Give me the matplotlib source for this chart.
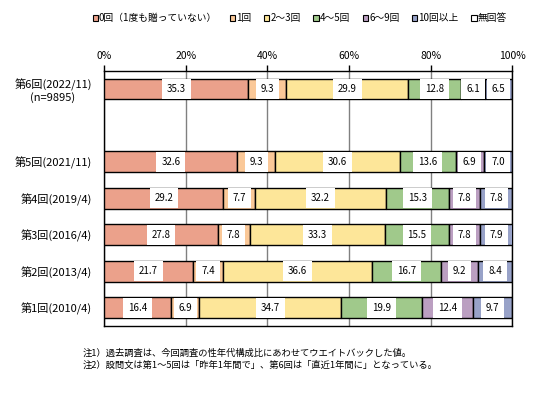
import numpy as np
import matplotlib.pyplot as plt
from matplotlib.patches import Patch

plt.rcParams['font.family'] = ['Noto Sans CJK JP', 'DejaVu Sans']

rounds = ['第6回(2022/11)\n(n=9895)', '第5回(2021/11)', '第4回(2019/4)',
          '第3回(2016/4)', '第2回(2013/4)', '第1回(2010/4)']
categories = ['0回（1度も贈っていない）', '1回', '2～3回', '4～5回', '6～9回', '10回以上', '無回答']
colors = ['#EBA18B', '#FAC898', '#FDE699', '#A0C98B', '#BB9FC1', '#98A2C8', '#FFFFFF']

zero = [35.3, 32.6, 29.2, 27.8, 21.7, 16.4]
one = [9.3, 9.3, 7.7, 7.8, 7.4, 6.9]
two_three = [29.9, 30.6, 32.2, 33.3, 36.6, 34.7]
four_five = [12.8, 13.6, 15.3, 15.5, 16.7, 19.9]
six_nine = [6.1, 6.9, 7.8, 7.8, 9.2, 12.4]
ten_plus = [6.5, 7.0, 7.8, 7.9, 8.4, 9.7]
no_answer = [0.1, 0.0, 0.0, 0.0, 0.0, 0.0]

series = [zero, one, two_three, four_five, six_nine, ten_plus, no_answer]

notes = ['注1）過去調査は、今回調査の性年代構成比にあわせてウエイトバックした値。',
         '注2）設問文は第1～5回は「昨年1年間で」、第6回は「直近1年間に」となっている。']

fig = plt.figure(figsize=(5.5, 3.93), dpi=100)
ax = fig.add_axes([0.1896, 0.1705, 0.7419, 0.6496])

# one empty slot between the latest survey and the rest
ypos = np.array([0, 2, 3, 4, 5, 6])

left = np.zeros(len(rounds))
for vals, col in zip(series, colors):
    vals = np.array(vals)
    ax.barh(ypos, vals, left=left, height=0.57, color=col,
            edgecolor='black', linewidth=1, zorder=3)
    if col != '#FFFFFF':
        for y, l, v in zip(ypos, left, vals):
            ax.text(l + v / 2, y, f'{v:.1f}', ha='center', va='center',
                    fontsize=7, zorder=4,
                    bbox=dict(boxstyle='square,pad=0.5', fc='white', ec='none'))
    left += vals

ax.set_xlim(0, 100)
ax.set_ylim(6.5, -0.5)
ax.set_yticks(ypos)
ax.set_yticklabels(rounds, fontsize=8, multialignment='center')
ax.tick_params(axis='y', length=0, pad=9)
ax.xaxis.tick_top()
ax.set_xticks([0, 20, 40, 60, 80, 100])
ax.set_xticklabels(['0%', '20%', '40%', '60%', '80%', '100%'], fontsize=7.5)
ax.tick_params(axis='x', length=4, width=1, color='black', pad=3)
ax.grid(axis='x', color='#808080', linewidth=1, zorder=1)
for s in ax.spines.values():
    s.set_color('black')
    s.set_linewidth(1)

handles = [Patch(facecolor=c, edgecolor='black', linewidth=0.8) for c in colors]
fig.legend(handles, categories, loc='center', bbox_to_anchor=(0.545, 0.953),
           ncol=7, frameon=False, fontsize=7, handlelength=0.55, handleheight=0.55,
           handletextpad=0.1, columnspacing=1.3, borderaxespad=0)

for i, t in enumerate(notes):
    fig.text(83 / 550, 1 - (353 + i * 12) / 393, t, fontsize=6.7, va='center', ha='left')

fig.savefig('out.png', dpi=100)
